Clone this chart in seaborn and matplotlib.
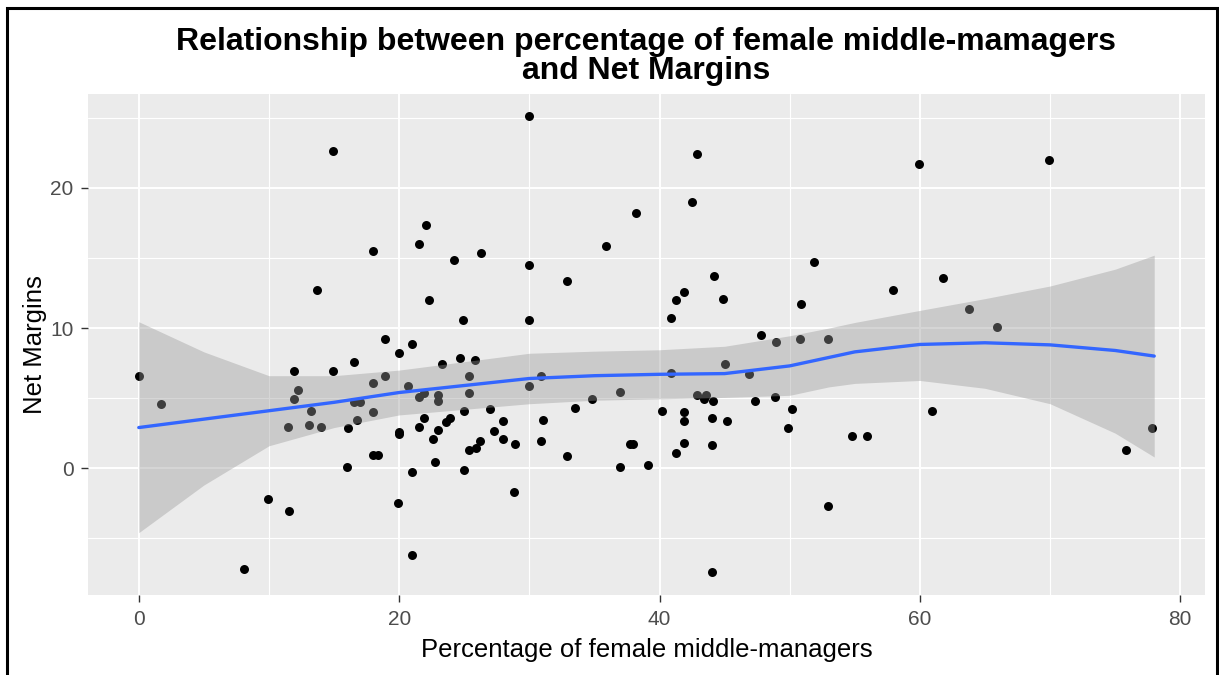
import numpy as np
import pandas as pd
import matplotlib
matplotlib.use("Agg")
import matplotlib.pyplot as plt
import seaborn as sns
from matplotlib.patches import Rectangle
from matplotlib.ticker import MultipleLocator

# points
pct_female = [0, 1.74, 8.05, 9.94, 11.43, 11.55, 11.96, 11.96, 12.2, 13.04,
              13.2, 13.7, 14.0, 14.93, 14.93, 16.0, 16.1, 16.5, 16.54, 16.8,
              17.0, 18.0, 18.0, 18.0, 18.0, 18.4, 18.94, 18.94, 19.9, 20.0,
              20.0, 20.0, 20.7, 20.96, 20.96, 20.96, 21.5, 21.5, 21.5, 21.9,
              21.9, 22.06, 22.3, 22.57, 22.75, 22.95, 22.95, 22.95, 23.3, 23.6,
              23.9, 24.2, 24.7, 24.9, 25.0, 25.0, 25.4, 25.4, 25.4, 25.8,
              25.9, 26.2, 26.3, 27.0, 27.3, 28.0, 28.0, 28.8, 28.9, 29.96,
              29.96, 29.96, 29.96, 30.9, 30.9, 31.06, 32.9, 32.9, 33.5, 34.8,
              35.9, 36.96, 36.96, 37.7, 37.96, 38.2, 39.1, 40.2, 40.85, 40.85,
              41.3, 41.3, 41.9, 41.9, 41.9, 41.9, 42.5, 42.9, 42.9, 43.4,
              43.6, 44.0, 44.0, 44.0, 44.1, 44.2, 44.9, 45.0, 45.2, 46.9,
              47.3, 47.8, 48.9, 48.95, 49.9, 50.2, 50.8, 50.9, 51.9, 52.96,
              52.96, 54.8, 55.9, 57.95, 59.97, 60.9, 61.8, 63.8, 65.9, 69.9,
              75.8, 77.8]
net_margin = [6.6, 4.6, -7.17, -2.17, 2.97, -3.03, 6.97, 4.95, 5.6, 3.09,
              4.09, 12.74, 2.97, 22.6, 6.97, 0.11, 2.86, 4.7, 7.6, 3.47,
              4.7, 15.47, 6.09, 4.0, 0.97, 0.97, 9.24, 6.6, -2.5, 8.24,
              2.6, 2.45, 5.9, 8.86, -0.29, -6.17, 16.0, 5.1, 2.97, 5.4,
              3.6, 17.38, 11.97, 2.09, 0.47, 5.19, 4.83, 2.73, 7.47, 3.33,
              3.57, 14.86, 7.86, 10.6, 4.09, -0.14, 6.6, 5.38, 1.33, 7.73,
              1.45, 1.97, 15.38, 4.24, 2.62, 3.36, 2.09, -1.67, 1.71, 25.1,
              14.47, 10.6, 5.9, 6.6, 1.97, 3.47, 13.36, 0.86, 4.33, 4.97,
              15.88, 5.47, 0.09, 1.71, 1.71, 18.24, 0.24, 4.09, 10.7, 6.8,
              12.0, 1.09, 12.6, 4.0, 3.4, 1.83, 19.0, 22.4, 5.24, 4.95,
              5.24, 3.6, 1.62, -7.43, 4.83, 13.74, 12.1, 7.47, 3.36, 6.74,
              4.83, 9.47, 5.09, 9.0, 2.86, 4.24, 9.24, 11.7, 14.74, 9.24,
              -2.67, 2.33, 2.33, 12.74, 21.7, 4.09, 13.6, 11.36, 10.1, 21.97,
              1.33, 2.86]

# loess fit and its confidence band
smooth_x = [0, 5, 10, 15, 20, 25, 30, 35, 40, 45, 50, 53, 55, 60, 65, 70, 75, 78]
smooth_y = [2.9, 3.5, 4.1, 4.7, 5.4, 5.9, 6.4, 6.6, 6.7, 6.75, 7.3, 7.9, 8.3, 8.83, 8.95, 8.8, 8.4, 8.0]
smooth_lo = [-4.6, -1.2, 1.6, 2.9, 3.8, 4.2, 4.6, 4.85, 4.95, 5.05, 5.2, 5.8, 6.05, 6.26, 5.7, 4.6, 2.5, 0.8]
smooth_hi = [10.45, 8.3, 6.6, 6.6, 7.0, 7.6, 8.2, 8.35, 8.45, 8.7, 9.45, 10.0, 10.4, 11.26, 12.1, 13.0, 14.2, 15.2]

df = pd.DataFrame({"pct": pct_female, "margin": net_margin})
fit = pd.DataFrame({"x": smooth_x, "y": smooth_y, "lo": smooth_lo, "hi": smooth_hi})

sns.set_theme(style="darkgrid", rc={
    "axes.facecolor": "#EBEBEB",
    "grid.color": "white",
    "axes.edgecolor": "none",
})
plt.rcParams["font.family"] = ["Liberation Sans", "DejaVu Sans"]

fig = plt.figure(figsize=(12.19, 6.75), dpi=100)
ax = fig.add_axes([0.0722, 0.1185, 0.9163, 0.7422])

sns.scatterplot(data=df, x="pct", y="margin", ax=ax, color="black", s=42,
                linewidth=0, zorder=3)
ax.fill_between(fit["x"], fit["lo"], fit["hi"], color="#999999", alpha=0.4,
                linewidth=0, zorder=4)
sns.lineplot(data=fit, x="x", y="y", ax=ax, color="#3366FF", linewidth=2.4, zorder=5)

ax.set_xlim(-3.9, 81.9)
ax.set_ylim(-9.05, 26.7)
ax.xaxis.set_major_locator(MultipleLocator(20))
ax.xaxis.set_minor_locator(MultipleLocator(10))
ax.yaxis.set_major_locator(MultipleLocator(10))
ax.yaxis.set_minor_locator(MultipleLocator(5))
ax.grid(which="major", color="white", linewidth=1.4)
ax.grid(which="minor", color="white", linewidth=0.8)
ax.set_axisbelow(True)
ax.tick_params(axis="both", which="major", length=5, width=1, color="#333333",
               labelsize=15, labelcolor="#4D4D4D", pad=5.5, bottom=True, left=True)
ax.tick_params(axis="both", which="minor", length=0)

ax.set_xlabel("Percentage of female middle-managers", fontsize=18.5, color="black", labelpad=7)
ax.set_ylabel("Net Margins", fontsize=18.5, color="black", labelpad=2)
ax.set_title("Relationship between percentage of female middle-mamagers\nand Net Margins",
             fontsize=23, fontweight="bold", color="black", linespacing=0.95, pad=11)

fig.patches.append(Rectangle((0.0057, -0.05), 0.9925, 1.038, transform=fig.transFigure,
                             fill=False, edgecolor="black", linewidth=2.2))

fig.savefig("out.png", dpi=100)
